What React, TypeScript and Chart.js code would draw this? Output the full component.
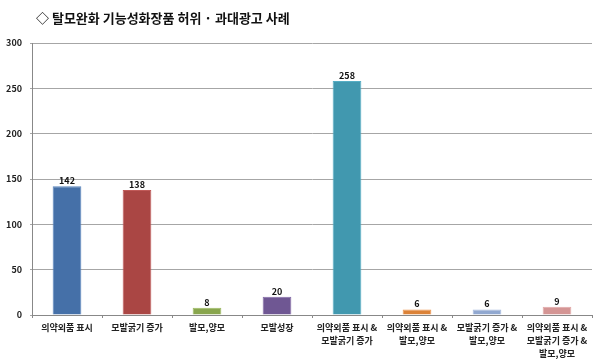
import React, { useEffect, useRef } from "react";
import { Chart, registerables } from "chart.js";

Chart.register(...registerables);

const titleText = "◇ 탈모완화 기능성화장품 허위 · 과대광고 사례";
const categories: string[][] = [
  ["의약외품 표시"],
  ["모발굵기 증가"],
  ["발모,양모"],
  ["모발성장"],
  ["의약외품 표시 &", "모발굵기 증가"],
  ["의약외품 표시 &", "발모,양모"],
  ["모발굵기 증가 &", "발모,양모"],
  ["의약외품 표시 &", "모발굵기 증가 &", "발모,양모"],
];
const values = [142, 138, 8, 20, 258, 6, 6, 9];
const barColors = ["#4570A8", "#AA4644", "#89A64E", "#6F5793", "#4198AF", "#DB8238", "#91A8D0", "#D49594"];
const barBorders = ["#5A86BE", "#C05A58", "#9DBB62", "#8369A6", "#55AEC5", "#EE9650", "#A6BCE0", "#E2A8A7"];
const yTicks = [0, 50, 100, 150, 200, 250, 300];

const FONT = "'Noto Sans CJK KR', 'Noto Sans', sans-serif";

export default function App() {
  const ref = useRef<HTMLCanvasElement | null>(null);
  useEffect(() => {
    if (!ref.current) return;
    const titlePlugin = {
      id: "titleAndLabels",
      beforeDraw(chart: any) {
        const ctx = chart.ctx;
        ctx.save();
        ctx.fillStyle = "#ffffff";
        ctx.fillRect(0, 0, chart.width, chart.height);
        ctx.restore();
      },
      afterDraw(chart: any) {
        const ctx = chart.ctx;
        ctx.save();
        ctx.font = `bold 13px ${FONT}`;
        ctx.fillStyle = "#111";
        ctx.textBaseline = "middle";
        ctx.textAlign = "left";
        ctx.fillText(titleText, 36, 18);
        const meta = chart.getDatasetMeta(0);
        ctx.font = `bold 9px ${FONT}`;
        ctx.textAlign = "center";
        ctx.textBaseline = "bottom";
        meta.data.forEach((bar: any, i: number) => {
          ctx.fillText(String(values[i]), bar.x, bar.y - 1);
        });
        ctx.restore();
      },
    };
    const chart = new Chart(ref.current, {
      type: "bar",
      data: {
        labels: categories,
        datasets: [
          {
            data: values,
            backgroundColor: barColors,
            borderColor: barBorders,
            borderWidth: 1,
            barPercentage: 0.82,
            categoryPercentage: 0.5,
          },
        ],
      },
      options: {
        animation: false,
        responsive: false,
        maintainAspectRatio: false,
        layout: { padding: { top: 43, right: 8, left: 0, bottom: 0 } },
        plugins: { legend: { display: false }, title: { display: false }, tooltip: { enabled: false } },
        scales: {
          x: {
            offset: true,
            grid: { offset: true, drawOnChartArea: false, drawTicks: true, tickLength: 3, color: "#888" },
            border: { color: "#888", width: 1 },
            ticks: {
              autoSkip: false,
              maxRotation: 0,
              minRotation: 0,
              padding: 3,
              color: "#222",
              font: { family: FONT, size: 9, weight: "bold", lineHeight: 1.45 },
            },
            afterFit(scale: any) {
              scale.height = 45;
            },
          },
          y: {
            min: 0,
            max: 300,
            afterBuildTicks(scale: any) {
              scale.ticks = yTicks.map((v) => ({ value: v }));
            },
            grid: { color: "#a6a6a6", tickLength: 2 },
            border: { color: "#888", width: 1 },
            ticks: {
              padding: 8,
              color: "#222",
              font: { family: FONT, size: 9, weight: "bold" },
            },
            afterFit(scale: any) {
              scale.width = 32;
            },
          },
        },
      },
      plugins: [titlePlugin],
    });
    return () => chart.destroy();
  }, []);
  return (
    <div style={{ position: "fixed", left: 0, top: 0, width: 600, height: 360, background: "#fff" }}>
      <canvas ref={ref} width={600} height={360} style={{ width: 600, height: 360, display: "block" }} />
    </div>
  );
}
